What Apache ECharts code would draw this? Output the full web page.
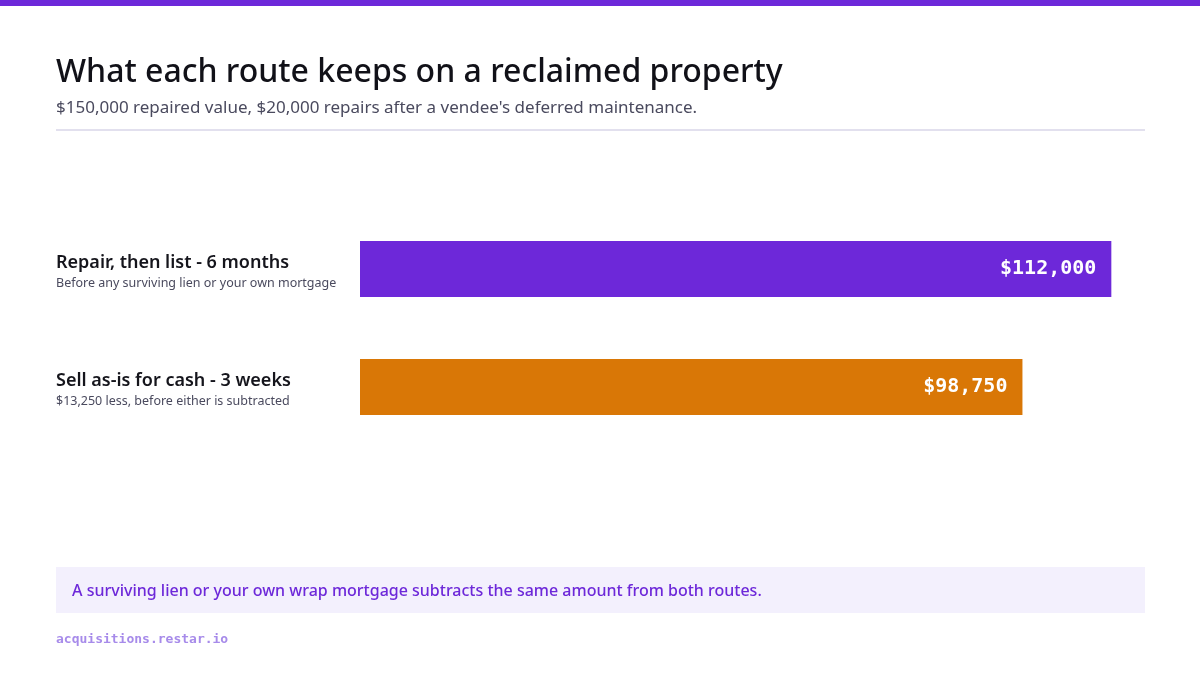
<!DOCTYPE html>
<html>
<head>
<meta charset="utf-8">
<script src="https://cdn.jsdelivr.net/npm/echarts@6/dist/echarts.min.js"></script>
<style>
  html, body { margin: 0; padding: 0; background: #fff; }
  #chart { width: 1200px; height: 675px; }
</style>
</head>
<body>
<div id="chart"></div>
<script>
// data
const routes = ["Repair, then list - 6 months", "Sell as-is for cash - 3 weeks"];
const notes = ["Before any surviving lien or your own mortgage", "$13,250 less, before either is subtracted"];
const values = [112000, 98750];
const barColors = ["#6d28d9", "#d97706"];

const sans = "'Noto Sans', 'Open Sans', sans-serif";
const mono = "'DejaVu Sans Mono', 'Liberation Mono', monospace";

const chart = echarts.init(document.getElementById("chart"));

const fmt = v => "$" + v.toLocaleString("en-US");

chart.setOption({
  backgroundColor: "#fff",
  animation: false,
  title: {
    text: "What each route keeps on a reclaimed property",
    subtext: "$150,000 repaired value, $20,000 repairs after a vendee's deferred maintenance.",
    left: 56,
    top: 57,
    padding: 0,
    itemGap: 11,
    textStyle: { fontFamily: sans, fontSize: 32, fontWeight: 500, color: "#111118" },
    subtextStyle: { fontFamily: sans, fontSize: 17, color: "#4a4a5e" }
  },
  grid: { left: 360, right: 35, top: 210, height: 236 },
  xAxis: {
    type: "value",
    min: 0,
    max: 120000,
    show: false
  },
  yAxis: {
    type: "category",
    inverse: true,
    data: routes,
    axisLine: { show: false },
    axisTick: { show: false },
    splitLine: { show: false },
    axisLabel: {
      align: "left",
      margin: 304,
      padding: [6, 0, 0, 0],
      formatter: (v, i) => "{name|" + v + "}\n{sub|" + notes[i] + "}",
      rich: {
        name: { fontFamily: sans, fontSize: 18, fontWeight: 600, color: "#15151c", lineHeight: 22 },
        sub: { fontFamily: sans, fontSize: 12.5, color: "#4a4a5e", lineHeight: 19 }
      }
    }
  },
  series: [{
    type: "bar",
    barWidth: 56,
    data: values.map((v, i) => ({ value: v, itemStyle: { color: barColors[i] } })),
    label: {
      show: true,
      position: "insideRight",
      distance: 15,
      formatter: p => fmt(p.value),
      fontFamily: mono,
      fontSize: 20,
      fontWeight: "bold",
      color: "#fff"
    }
  }],
  graphic: [
    { type: "rect", left: 0, top: 0, shape: { width: 1200, height: 6 }, style: { fill: "#6d28d9" } },
    { type: "rect", left: 56, top: 129, shape: { width: 1089, height: 2 }, style: { fill: "#e2e0ee" } },
    { type: "rect", left: 56, top: 567, shape: { width: 1089, height: 46 }, style: { fill: "#f3f0fd" } },
    {
      type: "text", left: 72, top: 583,
      style: {
        text: "A surviving lien or your own wrap mortgage subtracts the same amount from both routes.",
        fontFamily: sans, fontSize: 16, fontWeight: 500, fill: "#6d28d9"
      }
    },
    {
      type: "text", left: 56, top: 633,
      style: { text: "acquisitions.restar.io", fontFamily: mono, fontSize: 13, fontWeight: "bold", fill: "#a78bea" }
    }
  ]
});
</script>
</body>
</html>
